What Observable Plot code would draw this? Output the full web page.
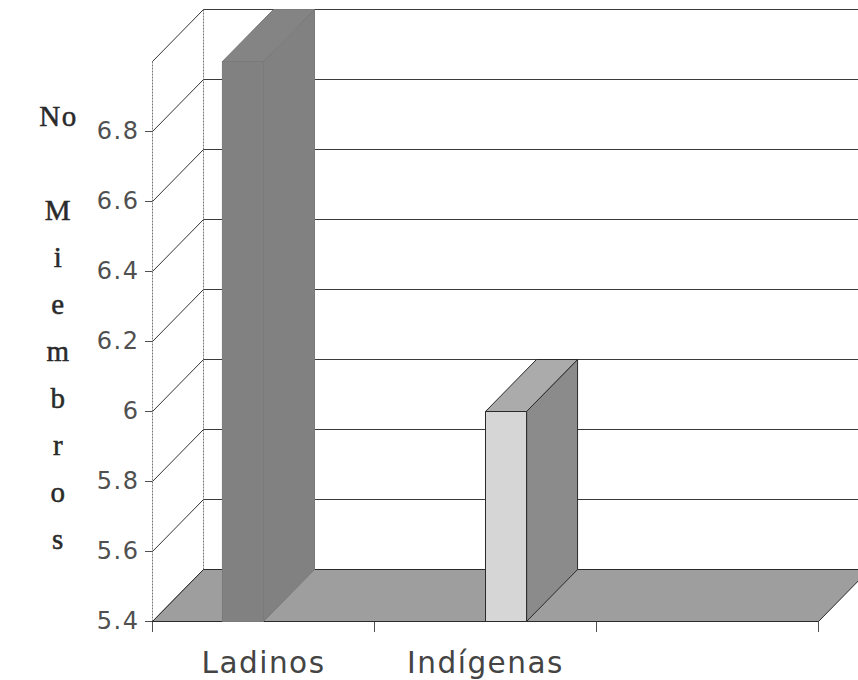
<!DOCTYPE html>
<html><head><meta charset="utf-8">
<script src="https://cdn.jsdelivr.net/npm/d3@7"></script>
<script src="https://cdn.jsdelivr.net/npm/@observablehq/plot@0.6"></script>
<style>
body{margin:0;background:#fff}
#chart svg{display:block}
</style></head><body><div id="chart"></div>
<script>
// ---- data ----
const categories = ["Ladinos", "Indígenas", ""];
const seriesNames = ["Ladinos", "Indígenas"];
const barCategory = [0, 1];          // category in which each series' bar stands
const barValues = [7.0, 6.0];
const yTicks = [5.4, 5.6, 5.8, 6.0, 6.2, 6.4, 6.6, 6.8];
const yTickLabels = ["5.4", "5.6", "5.8", "6", "6.2", "6.4", "6.6", "6.8"];
const yAxisTitle = ["No", "", "M", "i", "e", "m", "b", "r", "o", "s"];
const yMin = 5.4, yMax = 7.0;

// ---- layout / style ----
const W = 858, H = 680, mL = 152, mR = 40, mT = 61, mB = 59;
const depthPx = [51, 52];
const dX = depthPx[0] / ((W - mL - mR) / categories.length);
const dY = depthPx[1] / ((H - mT - mB) / (yMax - yMin));
const gap = 0.315, barW = 0.185;
const barColors = [
  {front: "#818181", side: "#818181", top: "#848484", edge: "#7a7a7a"},
  {front: "#d6d6d6", side: "#8b8b8b", top: "#ababab", edge: "#2a2a2a"}
];
const fmt = new Map(yTicks.map((t, i) => [t, yTickLabels[i]]));

let id = 0;
function poly(pts) {
  const k = id++;
  return pts.concat([pts[0]]).map(([x, y]) => ({id: k, x, y}));
}

const nC = categories.length;
const floor = poly([[0, yMin], [nC, yMin], [nC + dX, yMin + dY], [dX, yMin + dY]]);

const backLevels = [...yTicks.slice(1), yMax];
const backGrid = backLevels.map(v => ({x1: dX, y1: v + dY, x2: nC + dX, y2: v + dY}));
const sideLevels = [...yTicks, yMax];
const diagonals = sideLevels.map(v => ({x1: 0, y1: v, x2: dX, y2: v + dY}));
const verticals = [
  {x1: 0, y1: yMin, x2: 0, y2: yMax},
  {x1: dX, y1: yMin + dY, x2: dX, y2: yMax + dY}
];

const barMarks = [];
seriesNames.forEach((s, i) => {
  const c = barCategory[i], v = Math.min(barValues[i], yMax);
  const x0 = c + gap + i * barW, x1 = x0 + barW;
  const col = barColors[i];
  const side = poly([[x1, yMin], [x1 + dX, yMin + dY], [x1 + dX, v + dY], [x1, v]]);
  const top = poly([[x0, v], [x1, v], [x1 + dX, v + dY], [x0 + dX, v + dY]]);
  const front = poly([[x0, yMin], [x1, yMin], [x1, v], [x0, v]]);
  barMarks.push(
    Plot.line(side, {x: "x", y: "y", z: "id", fill: col.side, stroke: col.edge, strokeWidth: 1}),
    Plot.line(top, {x: "x", y: "y", z: "id", fill: col.top, stroke: col.edge, strokeWidth: 1}),
    Plot.line(front, {x: "x", y: "y", z: "id", fill: col.front, stroke: col.edge, strokeWidth: 1})
  );
});

const labelData = categories.map((c, i) => ({c, x: i + 0.5})).filter(d => d.c);

const chart = Plot.plot({
  width: W, height: H,
  marginLeft: mL, marginRight: mR, marginTop: mT, marginBottom: mB,
  style: {fontFamily: "DejaVu Sans", fontSize: "24px", color: "#505050", letterSpacing: "1.5px", background: "#fff"},
  x: {domain: [0, nC], ticks: d3.range(nC + 1), tickFormat: () => "", tickSize: 11, label: null},
  y: {domain: [yMin, yMax], ticks: yTicks, tickFormat: d => fmt.get(d), tickSize: 7, tickPadding: 6, label: null},
  marks: [
    Plot.link(backGrid, {x1: "x1", y1: "y1", x2: "x2", y2: "y2", stroke: "#3a3a3a", strokeWidth: 1}),
    Plot.link(verticals, {x1: "x1", y1: "y1", x2: "x2", y2: "y2", stroke: "#777", strokeWidth: 1, strokeDasharray: "2,1"}),
    Plot.link(diagonals, {x1: "x1", y1: "y1", x2: "x2", y2: "y2", stroke: "#333", strokeWidth: 1}),
    Plot.line(floor, {x: "x", y: "y", z: "id", fill: "#9e9e9e", stroke: "#2a2a2a", strokeWidth: 1}),
    ...barMarks,
    Plot.text(labelData, {x: "x", y: yMin, text: "c", dy: 42, fontSize: 29.5, fill: "#444"}),
    Plot.text([yAxisTitle.join("\n")], {text: d => d, frameAnchor: "left", dx: -94, dy: -19, textAnchor: "middle", lineAnchor: "middle", lineHeight: 1.62, fontSize: 29, fontFamily: "Liberation Serif", fill: "#2a2a2a", stroke: "#2a2a2a", strokeWidth: 0.5})
  ]
});
document.getElementById("chart").appendChild(chart);
</script></body></html>
